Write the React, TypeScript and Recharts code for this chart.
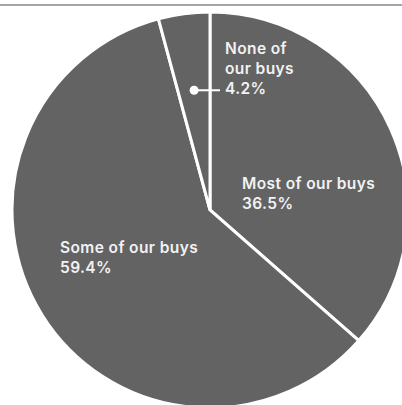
import { PieChart, Pie, Cell } from 'recharts'

// share of buys
const categories = ['Most of our buys', 'Some of our buys', 'None of our buys']
const shares = [36.5, 59.4, 4.2]
const shareLabels = ['36.5%', '59.4%', '4.2%']

const data = categories.map((name, i) => ({ name, value: shares[i], label: shareLabels[i] }))

const SLICE = '#636363'
const RAD = Math.PI / 180

// label placement relative to the pie centre
const LABEL_LAYOUT = [
  { dx: 32, dy: -21, lines: ['Most of our buys'] },
  { dx: -150, dy: 43, lines: ['Some of our buys'] },
  { dx: 15, dy: -156, lines: ['None of', 'our buys'] },
]

interface LabelProps {
  cx: number
  cy: number
  midAngle: number
  outerRadius: number
  index: number
}

function SliceLabel({ cx, cy, midAngle, outerRadius, index }: LabelProps) {
  const layout = LABEL_LAYOUT[index]
  const rows = [...layout.lines, data[index].label]
  const x = cx + layout.dx
  const y = cy + layout.dy
  const text = (
    <text
      x={x}
      y={y}
      fill="#f2f2f2"
      fontFamily="Inter, 'Noto Sans', sans-serif"
      fontSize={15.5}
      fontWeight={600}
      letterSpacing={0.4}
    >
      {rows.map((r, i) => (
        <tspan key={i} x={x} dy={i === 0 ? 0 : 20}>
          {r}
        </tspan>
      ))}
    </text>
  )
  if (index !== 2) return <g>{text}</g>
  // small slice: dot + leader line
  const px = cx + outerRadius * 0.61 * Math.cos(-midAngle * RAD)
  const py = cy + outerRadius * 0.61 * Math.sin(-midAngle * RAD)
  return (
    <g>
      <circle cx={px} cy={py} r={4.5} fill="#fff" />
      <line x1={px} y1={py} x2={cx + 10} y2={py} stroke="#fff" strokeWidth={2} />
      {text}
    </g>
  )
}

export default function App() {
  return (
    <div style={{ position: 'absolute', top: 0, left: 0, width: 402, height: 405, background: '#fff', overflow: 'hidden' }}>
      <div style={{ position: 'absolute', top: 4, left: 0, width: 402, height: 2, background: '#a6a6a6' }} />
      <PieChart width={402} height={405} margin={{ top: 0, right: 0, bottom: 0, left: 0 }}>
        <Pie
          data={data}
          dataKey="value"
          nameKey="name"
          cx={210}
          cy={210}
          outerRadius={198}
          startAngle={90}
          endAngle={-270}
          label={(p: any) => <SliceLabel {...p} />}
          labelLine={false}
          isAnimationActive={false}
        >
          {data.map((_, i) => (
            <Cell key={i} fill={SLICE} stroke="#fff" strokeWidth={3} />
          ))}
        </Pie>
      </PieChart>
    </div>
  )
}
